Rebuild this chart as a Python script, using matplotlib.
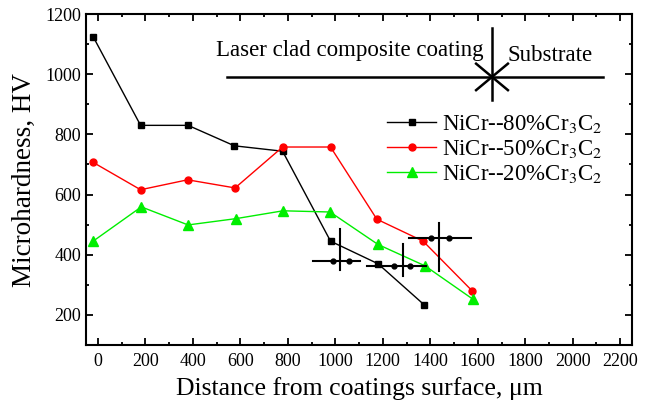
import matplotlib
matplotlib.use("Agg")
import matplotlib.pyplot as plt
from matplotlib.ticker import MultipleLocator

plt.rcParams['font.family'] = ['Liberation Serif', 'DejaVu Serif']
plt.rcParams['mathtext.fontset'] = 'stix'

# Data
x80 = [-20, 180, 380, 575, 778, 980, 1180, 1375]
y80 = [1125, 830, 830, 762, 744, 445, 370, 233]
x50 = [-20, 180, 378, 578, 778, 980, 1175, 1370, 1575]
y50 = [707, 616, 649, 622, 758, 758, 518, 445, 281]
x20 = [-20, 183, 380, 582, 780, 978, 1180, 1378, 1578]
y20 = [445, 559, 499, 520, 546, 542, 434, 363, 253]

labels = [r'NiCr--80%Cr$_3$C$_2$', r'NiCr--50%Cr$_3$C$_2$', r'NiCr--20%Cr$_3$C$_2$']

# interface marker crosses: (hline y, x0, x1, vline x, y0, y1, dot xs)
crosses = [
    (378, 906, 1102, 1021, 350, 484, [990, 1057]),
    (361, 1133, 1380, 1284, 328, 434, [1249, 1315]),
    (457, 1312, 1571, 1438, 345, 506, [1403, 1477]),
]

fig = plt.figure(figsize=(6.45, 4.01), dpi=100)
ax = fig.add_axes([0.1333, 0.1397, 0.8467, 0.8253])

ax.plot(x80, y80, color='black', lw=1.0, marker='s', ms=5, label=labels[0])
ax.plot(x50, y50, color='red', lw=1.0, marker='o', ms=5, label=labels[1])
ax.plot(x20, y20, color='#00ee00', lw=1.0, marker='^', ms=6.5, label=labels[2])

for hy, hx0, hx1, vx, vy0, vy1, dots in crosses:
    ax.plot([hx0, hx1], [hy, hy], color='black', lw=1.5)
    ax.plot([vx, vx], [vy0, vy1], color='black', lw=1.5)
    ax.plot(dots, [hy] * len(dots), 'o', color='black', ms=3.5)

# top annotation
ax.plot([545, 2127], [991, 991], color='black', lw=1.8)
ax.plot([1660, 1660], [915, 1152], color='black', lw=1.8)
ax.plot([1593, 1727], [1035, 947], color='black', lw=1.8)
ax.plot([1593, 1727], [947, 1035], color='black', lw=1.8)
ax.text(1625, 1080, 'Laser clad composite coating', ha='right', va='center', fontsize=16.5)
ax.text(1725, 1063, 'Substrate', ha='left', va='center', fontsize=16.5)

ax.set_xlim(-50, 2250)
ax.set_ylim(100, 1200)
ax.xaxis.set_major_locator(MultipleLocator(200))
ax.xaxis.set_minor_locator(MultipleLocator(100))
ax.yaxis.set_major_locator(MultipleLocator(200))
ax.yaxis.set_minor_locator(MultipleLocator(100))
ax.set_yticks([200, 400, 600, 800, 1000, 1200])
ax.tick_params(which='both', direction='in', top=True, right=True, labeltop=False, labelright=False, width=1.3)
ax.tick_params(which='major', length=5, labelsize=13)
ax.tick_params(axis='x', which='major', pad=6)
ax.tick_params(which='minor', length=2.5)
for s in ax.spines.values():
    s.set_linewidth(1.5)

ax.set_xlabel('Distance from coatings surface, μm', fontsize=18.5, labelpad=5)
ax.set_ylabel('Microhardness, HV', fontsize=19.5, labelpad=6)

leg = ax.legend(loc='upper left', bbox_to_anchor=(0.53, 0.737), frameon=False, fontsize=16.5,
                handlelength=2.15, handletextpad=0.25, labelspacing=0.15, borderpad=0)

fig.savefig('out.png', dpi=100)
